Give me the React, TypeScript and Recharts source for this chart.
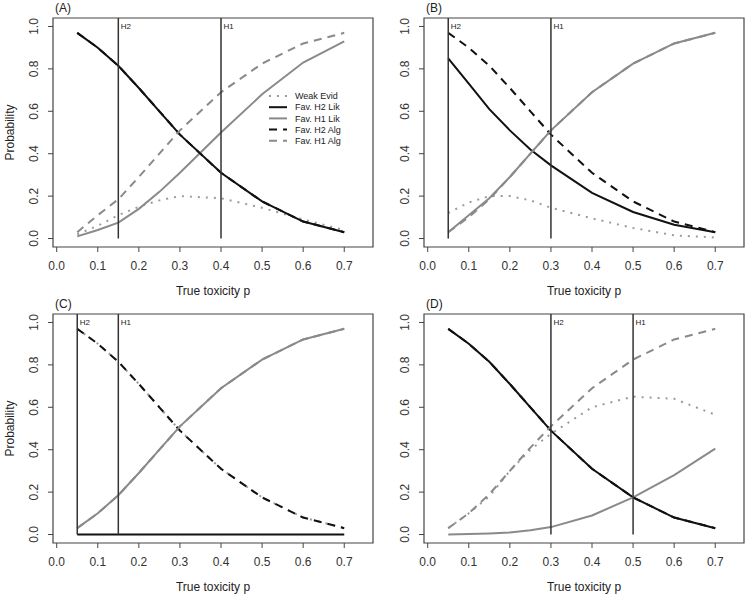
import React from 'react';
import { LineChart, Line, XAxis, YAxis, ReferenceLine, ReferenceArea, Legend } from 'recharts';

// true toxicity grid
const toxicity = [0.05, 0.1, 0.15, 0.2, 0.25, 0.3, 0.4, 0.5, 0.6, 0.7];

// (A) H2 = 0.15, H1 = 0.4
const aWeak = [0.02, 0.06, 0.11, 0.15, 0.18, 0.2, 0.19, 0.145, 0.09, 0.04];
const aH2Lik = [0.97, 0.9, 0.815, 0.71, 0.6, 0.49, 0.31, 0.175, 0.08, 0.03];
const aH1Lik = [0.01, 0.04, 0.075, 0.14, 0.22, 0.31, 0.5, 0.68, 0.83, 0.93];
const aH2Alg = [0.97, 0.9, 0.815, 0.71, 0.6, 0.49, 0.31, 0.175, 0.08, 0.03];
const aH1Alg = [0.03, 0.11, 0.185, 0.29, 0.4, 0.51, 0.69, 0.825, 0.92, 0.97];

// (B) H2 = 0.05, H1 = 0.3
const bWeak = [0.12, 0.17, 0.2, 0.2, 0.18, 0.145, 0.095, 0.05, 0.015, 0.005];
const bH2Lik = [0.85, 0.73, 0.61, 0.51, 0.42, 0.345, 0.215, 0.125, 0.065, 0.03];
const bH1Lik = [0.03, 0.11, 0.19, 0.29, 0.4, 0.51, 0.69, 0.825, 0.92, 0.97];
const bH2Alg = [0.97, 0.9, 0.815, 0.71, 0.6, 0.49, 0.31, 0.175, 0.08, 0.03];
const bH1Alg = [0.03, 0.1, 0.185, 0.29, 0.4, 0.51, 0.69, 0.825, 0.92, 0.97];

// (C) H2 = 0.05, H1 = 0.15
const cWeak = [0.97, 0.9, 0.815, 0.71, 0.6, 0.49, 0.31, 0.175, 0.08, 0.03];
const cH2Lik = [0, 0, 0, 0, 0, 0, 0, 0, 0, 0];
const cH1Lik = [0.03, 0.1, 0.185, 0.29, 0.4, 0.51, 0.69, 0.825, 0.92, 0.97];
const cH2Alg = [0.97, 0.9, 0.815, 0.71, 0.6, 0.49, 0.31, 0.175, 0.08, 0.03];
const cH1Alg = [0.03, 0.1, 0.185, 0.29, 0.4, 0.51, 0.69, 0.825, 0.92, 0.97];

// (D) H2 = 0.3, H1 = 0.5
const dWeak = [0.03, 0.1, 0.18, 0.3, 0.4, 0.475, 0.6, 0.65, 0.64, 0.565];
const dH2Lik = [0.97, 0.9, 0.815, 0.71, 0.6, 0.49, 0.31, 0.175, 0.08, 0.03];
const dH1Lik = [0.0, 0.002, 0.005, 0.01, 0.02, 0.035, 0.09, 0.175, 0.28, 0.405];
const dH2Alg = [0.97, 0.9, 0.815, 0.71, 0.6, 0.49, 0.31, 0.175, 0.08, 0.03];
const dH1Alg = [0.03, 0.1, 0.19, 0.3, 0.41, 0.51, 0.69, 0.825, 0.92, 0.97];

const xTicks = [0, 0.1, 0.2, 0.3, 0.4, 0.5, 0.6, 0.7];
const yTicks = [0, 0.2, 0.4, 0.6, 0.8, 1.0];

const X_DOMAIN: [number, number] = [-0.009, 0.77];
const Y_DOMAIN: [number, number] = [-0.04, 1.04];
const FONT = '"Liberation Sans", Arial, Helvetica, sans-serif';

const SERIES = [
  { key: 'weak', name: 'Weak Evid', color: '#9b9b9b', dash: '2 6' },
  { key: 'h2lik', name: 'Fav. H2 Lik', color: '#111111', dash: undefined },
  { key: 'h1lik', name: 'Fav. H1 Lik', color: '#8a8a8a', dash: undefined },
  { key: 'h2alg', name: 'Fav. H2 Alg', color: '#111111', dash: '8 6' },
  { key: 'h1alg', name: 'Fav. H1 Alg', color: '#8a8a8a', dash: '8 6' },
];

const buildRows = (w: number[], h2l: number[], h1l: number[], h2a: number[], h1a: number[]) =>
  toxicity.map((p, i) => ({ p, weak: w[i], h2lik: h2l[i], h1lik: h1l[i], h2alg: h2a[i], h1alg: h1a[i] }));

const XTick = (props: any) => {
  const { x, y, payload } = props;
  return (
    <text x={x} y={y} dy={15.5} textAnchor="middle" fontSize={12} fill="#333" fontFamily={FONT}>
      {Number(payload.value).toFixed(1)}
    </text>
  );
};

const YTick = (props: any) => {
  const { x, y, payload } = props;
  return (
    <text x={x} y={y} transform={`rotate(-90 ${x} ${y})`} textAnchor="middle" fontSize={12} fill="#333" fontFamily={FONT}>
      {Number(payload.value).toFixed(1)}
    </text>
  );
};

const hLabel = (text: string) => (props: any) => {
  const vb = props && props.viewBox;
  if (!vb) return null;
  return (
    <text x={vb.x + 2.5} y={vb.y + 11} fontSize={8} fill="#222" fontFamily={FONT}>
      {text}
    </text>
  );
};

const LegendBox = () => (
  <svg width={100} height={60}>
    {SERIES.map((s, i) => (
      <g key={s.key}>
        <line x1={2} x2={20} y1={5 + i * 11.2} y2={5 + i * 11.2} stroke={s.color} strokeWidth={2} strokeDasharray={s.dash} />
        <text x={28} y={5 + i * 11.2} dy="0.35em" fontSize={9} fill="#222" fontFamily={FONT}>
          {s.name}
        </text>
      </g>
    ))}
  </svg>
);

type PanelProps = {
  title: string;
  h2: number;
  h1: number;
  rows: any[];
  left: number;
  top: number;
  width: number;
  height: number;
  box: { l: number; r: number; t: number; b: number };
  yTitle?: boolean;
  legend?: boolean;
};

const Panel = ({ title, h2, h1, rows, left, top, width, height, box, yTitle, legend }: PanelProps) => (
  <div style={{ position: 'absolute', left, top }}>
    <LineChart width={width} height={height} data={rows} margin={{ top: box.t, right: width - box.r, bottom: 0, left: 0 }}>
      <XAxis
        type="number"
        dataKey="p"
        domain={X_DOMAIN}
        allowDataOverflow
        ticks={xTicks}
        interval={0}
        tick={XTick}
        tickSize={5}
        tickMargin={2}
        tickLine={{ stroke: '#444' }}
        axisLine={false}
        height={height - box.b}
      />
      <YAxis
        type="number"
        domain={Y_DOMAIN}
        allowDataOverflow
        ticks={yTicks}
        interval={0}
        tick={YTick}
        tickSize={5}
        tickMargin={10}
        tickLine={{ stroke: '#444' }}
        axisLine={false}
        width={box.l}
      />
      <ReferenceArea x1={X_DOMAIN[0]} x2={X_DOMAIN[1]} y1={Y_DOMAIN[0]} y2={Y_DOMAIN[1]} fill="none" stroke="#444" strokeWidth={1.2} />
      {SERIES.map((s) => (
        <Line
          key={s.key}
          type="linear"
          dataKey={s.key}
          name={s.name}
          stroke={s.color}
          strokeWidth={2}
          strokeDasharray={s.dash}
          dot={false}
          activeDot={false}
          isAnimationActive={false}
        />
      ))}
      <ReferenceLine segment={[{ x: h2, y: 0 }, { x: h2, y: Y_DOMAIN[1] }]} stroke="#333" strokeWidth={1.5} label={hLabel('H2')} />
      <ReferenceLine segment={[{ x: h1, y: 0 }, { x: h1, y: Y_DOMAIN[1] }]} stroke="#333" strokeWidth={1.5} label={hLabel('H1')} />
      {legend && (
        <Legend
          layout="vertical"
          align="center"
          verticalAlign="middle"
          content={LegendBox}
          wrapperStyle={{ left: 267, top: 91, width: 100, height: 60 }}
        />
      )}
      <text x={box.l + 2} y={box.t - 6} fontSize={12} fill="#222" fontFamily={FONT}>
        {title}
      </text>
      <text x={(box.l + box.r) / 2} y={box.b + 48} textAnchor="middle" fontSize={12} fill="#222" fontFamily={FONT}>
        True toxicity p
      </text>
      {yTitle && (
        <text
          x={14}
          y={(box.t + box.b) / 2}
          transform={`rotate(-90 14 ${(box.t + box.b) / 2})`}
          textAnchor="middle"
          fontSize={12}
          fill="#222"
          fontFamily={FONT}
        >
          Probability
        </text>
      )}
    </LineChart>
  </div>
);

export default function App() {
  return (
    <div style={{ position: 'absolute', left: 0, top: 0, width: 750, height: 598, background: '#fff' }}>
      <Panel title="(A)" h2={0.15} h1={0.4} rows={buildRows(aWeak, aH2Lik, aH1Lik, aH2Alg, aH1Alg)}
        left={0} top={0} width={375} height={298} box={{ l: 53, r: 373, t: 18, b: 247 }} yTitle legend />
      <Panel title="(B)" h2={0.05} h1={0.3} rows={buildRows(bWeak, bH2Lik, bH1Lik, bH2Alg, bH1Alg)}
        left={375} top={0} width={375} height={298} box={{ l: 49, r: 369, t: 18, b: 247 }} />
      <Panel title="(C)" h2={0.05} h1={0.15} rows={buildRows(cWeak, cH2Lik, cH1Lik, cH2Alg, cH1Alg)}
        left={0} top={298} width={375} height={300} box={{ l: 53, r: 373, t: 16, b: 245 }} yTitle />
      <Panel title="(D)" h2={0.3} h1={0.5} rows={buildRows(dWeak, dH2Lik, dH1Lik, dH2Alg, dH1Alg)}
        left={375} top={298} width={375} height={300} box={{ l: 49, r: 369, t: 16, b: 245 }} />
    </div>
  );
}
